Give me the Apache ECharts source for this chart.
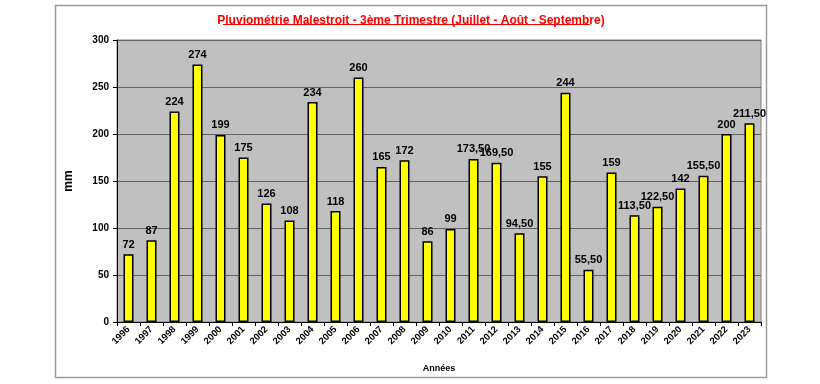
<!DOCTYPE html>
<html><head><meta charset="utf-8">
<script src="https://cdn.jsdelivr.net/npm/echarts@6/dist/echarts.min.js"></script>
<style>html,body{margin:0;padding:0;background:#fff}#c{width:820px;height:384px}</style>
</head><body><div id="c"></div>
<script>
const years = ['1996','1997','1998','1999','2000','2001','2002','2003','2004','2005','2006','2007','2008','2009','2010','2011','2012','2013','2014','2015','2016','2017','2018','2019','2020','2021','2022','2023'];
const rainfall = [72,87,224,274,199,175,126,108,234,118,260,165,172,86,99,173.5,169.5,94.5,155,244,55.5,159,113.5,122.5,142,155.5,200,211.5];
const yTicks = [0,50,100,150,200,250,300];

const chart = echarts.init(document.getElementById('c'));
const F = 'Liberation Sans, Arial, sans-serif';
function fmt(v){ return Number.isInteger(v) ? String(v) : v.toFixed(2).replace('.', ','); }
chart.setOption({
  animation:false,
  backgroundColor:'#fff',
  title:{text:'Pluviométrie Malestroit - 3ème Trimestre (Juillet - Août - Septembre)', left:406, textAlign:'center', top:10,
    textStyle:{color:'#ff0000', fontFamily:F, fontWeight:'bold', fontSize:12}},
  graphic:[
    {type:'rect', shape:{x:55.5,y:5.5,width:711,height:372}, style:{fill:'none', stroke:'#9a9a9a', lineWidth:1.5}, z:-1},
    {type:'line', shape:{x1:223,y1:24.5,x2:590,y2:24.5}, style:{stroke:'#ff0000', lineWidth:1}}
  ],
  grid:{left:117, right:59, top:40, bottom:62, show:true, backgroundColor:'#c0c0c0', borderColor:'#808080', borderWidth:1},
  xAxis:{type:'category', data:years, name:'Années', nameLocation:'middle', nameGap:42,
    nameTextStyle:{fontFamily:F, fontWeight:'bold', fontSize:9, color:'#000'},
    axisLine:{lineStyle:{color:'#000'}}, axisTick:{show:true, length:4, lineStyle:{color:'#000'}},
    axisLabel:{rotate:45, interval:0, fontFamily:F, fontWeight:'bold', fontSize:9.5, color:'#000', margin:6}},
  yAxis:{type:'value', min:0, max:300, interval:50, name:'mm', nameLocation:'middle', nameGap:42,
    nameTextStyle:{fontFamily:F, fontWeight:'bold', fontSize:12, color:'#000'},
    axisLine:{show:true, lineStyle:{color:'#000'}}, axisTick:{show:true, length:4, lineStyle:{color:'#000'}},
    axisLabel:{fontFamily:F, fontWeight:'bold', fontSize:10, color:'#000', margin:8,
      formatter:v=> yTicks.includes(v)? String(v):''},
    splitLine:{lineStyle:{color:'#606060', width:1}}},
  series:[{type:'bar', data:rainfall, barWidth:10,
    itemStyle:{color:'#ffff00', borderColor:'#000', borderWidth:1.5},
    label:{show:true, position:'top', distance:4, formatter:p=>fmt(p.value),
      fontFamily:F, fontWeight:'bold', fontSize:11, color:'#000'}}]
});
</script></body></html>
